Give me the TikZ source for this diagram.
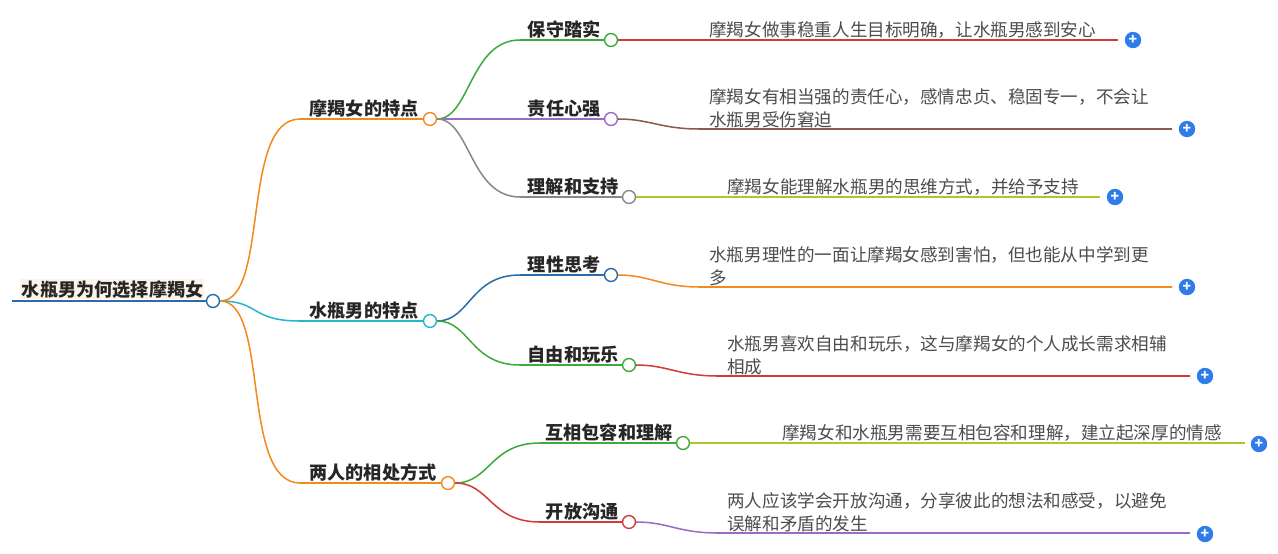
\documentclass[tikz,border=0pt]{standalone}
\usepackage{fontspec}
\setmainfont{Noto Sans CJK SC}
\usetikzlibrary{positioning}
\definecolor{cOrange}{HTML}{F28A1E}
\definecolor{cCyan}{HTML}{26B5C9}
\definecolor{cBlue}{HTML}{2B6CA8}
\definecolor{cGreen}{HTML}{3DAA3A}
\definecolor{cPurple}{HTML}{9A6BC4}
\definecolor{cGray}{HTML}{888888}
\definecolor{cRed}{HTML}{D23B3B}
\definecolor{cBrown}{HTML}{8A5A4A}
\definecolor{cLime}{HTML}{B5C22E}
\definecolor{cPlus}{HTML}{2F7BEA}
\tikzset{
  dot/.style={circle, draw=#1, fill=white, line width=1.2pt, minimum size=11pt, inner sep=0pt},
  topic/.style={anchor=south east, inner sep=1pt, font=\fontsize{15.5}{17}\selectfont\bfseries, text=black!85},
  leaf/.style={anchor=south west, inner sep=1pt, align=left, font=\fontsize{15}{19.5}\selectfont, text=black!70},
  plus/.style={circle, fill=cPlus, minimum size=14pt, inner sep=0pt, text=white, font=\bfseries\large},
  wire/.style={line width=1.3pt}
}
\begin{document}
\begin{tikzpicture}[x=0.03cm, y=-0.03cm]
\useasboundingbox (0,0) rectangle (1278,553);

% Root
\fill[cOrange!10] (20,279) rectangle (204,299);
\node at (213,301) [dot=cBlue] (root) {};
\node at (205,300) [topic, font=\fontsize{15.5}{17}\selectfont\bfseries] (root_t) {水瓶男为何选择摩羯女};
\draw[cBlue, line width=2.5pt] (12,301) -- (root.west);

% Level 1
\node at (430,119) [dot=cOrange] (l1_a) {};
\node at (430,321) [dot=cCyan] (l1_b) {};
\node at (448,483) [dot=cOrange] (l1_c) {};
\node at (420,119) [topic] {摩羯女的特点};
\node at (420,321) [topic] {水瓶男的特点};
\node at (438,483) [topic] {两人的相处方式};
\draw[wire, cOrange] (root) .. controls (270,301) and (240,119) .. (300,119) -- (l1_a);
\draw[wire, cCyan] (root) .. controls (260,301) and (250,321) .. (300,321) -- (l1_b);
\draw[wire, cOrange] (root) .. controls (270,301) and (240,483) .. (300,483) -- (l1_c);

% Level 2
\node at (611,40) [dot=cGreen] (l2_1) {};
\node at (611,119) [dot=cPurple] (l2_2) {};
\node at (629,197) [dot=cGray] (l2_3) {};
\node at (611,275) [dot=cBlue] (l2_4) {};
\node at (629,365) [dot=cGreen] (l2_5) {};
\node at (683,443) [dot=cGreen] (l2_6) {};
\node at (629,522) [dot=cRed] (l2_7) {};
\node at (602,40) [topic] {保守踏实};
\node at (602,119) [topic] {责任心强};
\node at (620,197) [topic] {理解和支持};
\node at (602,275) [topic] {理性思考};
\node at (620,365) [topic] {自由和玩乐};
\node at (674,443) [topic] {互相包容和理解};
\node at (620,522) [topic] {开放沟通};
\draw[wire, cGreen] (l1_a) .. controls (470,119) and (470,40) .. (520,40) -- (l2_1);
\draw[wire, cPurple] (l1_a) -- (l2_2);
\draw[wire, cGray] (l1_a) .. controls (470,119) and (470,197) .. (520,197) -- (l2_3);
\draw[wire, cBlue] (l1_b) .. controls (470,321) and (470,275) .. (520,275) -- (l2_4);
\draw[wire, cGreen] (l1_b) .. controls (470,321) and (470,365) .. (520,365) -- (l2_5);
\draw[wire, cGreen] (l1_c) .. controls (490,483) and (490,443) .. (540,443) -- (l2_6);
\draw[wire, cRed] (l1_c) .. controls (490,483) and (490,522) .. (540,522) -- (l2_7);

% Leaves
\node at (1133,40) [plus] (p1) {+};
\node at (1187,129) [plus] (p2) {+};
\node at (1115,197) [plus] (p3) {+};
\node at (1187,287) [plus] (p4) {+};
\node at (1205,376) [plus] (p5) {+};
\node at (1259,444) [plus] (p6) {+};
\node at (1205,534) [plus] (p7) {+};
\node at (708,40) [leaf] {摩羯女做事稳重人生目标明确，让水瓶男感到安心};
\node at (708,129) [leaf] {摩羯女有相当强的责任心，感情忠贞、稳固专一，不会让\\水瓶男受伤窘迫};
\node at (726,197) [leaf] {摩羯女能理解水瓶男的思维方式，并给予支持};
\node at (708,287) [leaf] {水瓶男理性的一面让摩羯女感到害怕，但也能从中学到更\\多};
\node at (726,376) [leaf] {水瓶男喜欢自由和玩乐，这与摩羯女的个人成长需求相辅\\相成};
\node at (781,443) [leaf] {摩羯女和水瓶男需要互相包容和理解，建立起深厚的情感};
\node at (726,533) [leaf] {两人应该学会开放沟通，分享彼此的想法和感受，以避免\\误解和矛盾的发生};
\draw[wire, cRed] (l2_1) -- (1118,40);
\draw[wire, cBrown] (l2_2) .. controls (650,119) and (660,129) .. (700,129) -- (1172,129);
\draw[wire, cLime] (l2_3) -- (1100,197);
\draw[wire, cOrange] (l2_4) .. controls (650,275) and (660,287) .. (700,287) -- (1172,287);
\draw[wire, cRed] (l2_5) .. controls (668,365) and (678,376) .. (718,376) -- (1190,376);
\draw[wire, cLime] (l2_6) -- (1245,443);
\draw[wire, cPurple] (l2_7) .. controls (668,522) and (678,533) .. (718,533) -- (1190,533);
\end{tikzpicture}
\end{document}
